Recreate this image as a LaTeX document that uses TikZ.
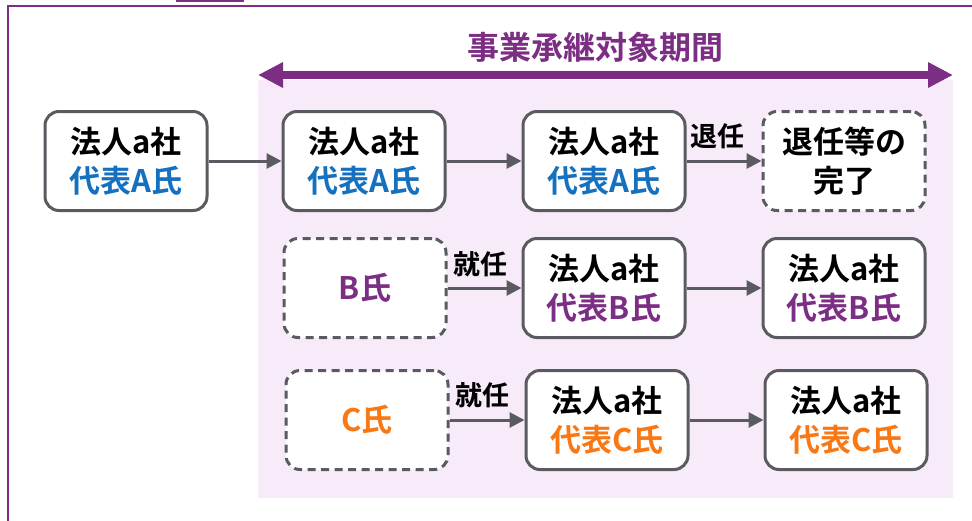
\documentclass[tikz,border=0pt]{standalone}
\usepackage{fontspec}
\setmainfont{Noto Sans CJK JP}[BoldFont={Noto Sans CJK JP Bold}]
\usetikzlibrary{arrows.meta}
\definecolor{frpurple}{RGB}{124,45,132}
\definecolor{bgpink}{RGB}{247,234,249}
\definecolor{repblue}{RGB}{21,112,192}
\definecolor{reporange}{RGB}{250,120,20}
\definecolor{boxgray}{RGB}{90,91,96}
\tikzset{
  boxbase/.style={draw=boxgray, line width=3pt, fill=white, rounded corners=14pt,
    minimum width=162pt, minimum height=99pt, inner sep=0pt, align=center,
    font=\fontsize{31pt}{39pt}\selectfont\bfseries},
  solidbox/.style={boxbase},
  dashbox/.style={boxbase, dash pattern=on 8pt off 5.5pt},
  arr/.style={draw=boxgray, line width=3pt, -{Triangle[length=15pt,width=15pt]}},
  lbl/.style={font=\fontsize{27pt}{30pt}\selectfont\bfseries, inner sep=0pt, text=black},
  period/.style={draw=frpurple, line width=8pt,
    {Triangle[length=25pt,width=24pt]}-{Triangle[length=25pt,width=24pt]}},
}
\begin{document}
\begin{tikzpicture}[x=1pt,y=-1pt]
\useasboundingbox (0,0) rectangle (972,520);
\begin{scope}
\clip (0,0) rectangle (972,520);
% frame
\draw[frpurple, line width=2.5pt] (8,530) -- (8,6) -- (985,6);
\draw[frpurple, line width=2pt] (177,-10) rectangle (243,0.8);
% background
\fill[bgpink] (258,80) rectangle (953,498);
\end{scope}
% title and period arrow
\node[font=\fontsize{32pt}{36pt}\selectfont\bfseries, text=frpurple, inner sep=0pt] (title) at (595,47) {事業承継対象期間};
\coordinate (pl) at (258,75);
\coordinate (pr) at (953,75);
\draw[period] (pl) -- (pr);
% row 1
\node[solidbox] (a0) at (126,161) {法人a社\\\textcolor{repblue}{代表A氏}};
\node[solidbox] (a1) at (364,161) {法人a社\\\textcolor{repblue}{代表A氏}};
\node[solidbox] (a2) at (604,161) {法人a社\\\textcolor{repblue}{代表A氏}};
\node[dashbox] (a3) at (844,161) {退任等の\\完了};
% row 2
\node[dashbox] (b0) at (365,288) {\textcolor{frpurple}{B氏}};
\node[solidbox] (b1) at (604,288) {法人a社\\\textcolor{frpurple}{代表B氏}};
\node[solidbox] (b2) at (844,288) {法人a社\\\textcolor{frpurple}{代表B氏}};
% row 3
\node[dashbox] (c0) at (367,420) {\textcolor{reporange}{C氏}};
\node[solidbox] (c1) at (607,420) {法人a社\\\textcolor{reporange}{代表C氏}};
\node[solidbox] (c2) at (846,420) {法人a社\\\textcolor{reporange}{代表C氏}};
% connectors
\draw[arr] (a0) -- (a1);
\draw[arr] (a1) -- (a2);
\draw[arr] (a2) -- node[lbl, midway, xshift=-7pt, yshift=25pt] (l1) {退任} (a3);
\draw[arr] (b0) -- node[lbl, midway, xshift=-4.5pt, yshift=24pt] (l2) {就任} (b1);
\draw[arr] (b1) -- (b2);
\draw[arr] (c0) -- node[lbl, midway, xshift=-5pt, yshift=25pt] (l3) {就任} (c1);
\draw[arr] (c1) -- (c2);
\end{tikzpicture}
\end{document}
